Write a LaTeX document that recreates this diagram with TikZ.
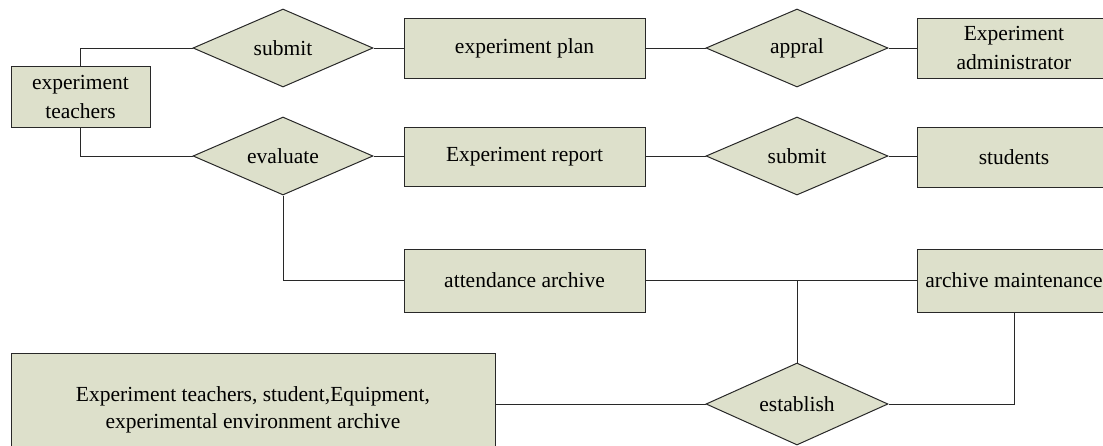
\documentclass[tikz,border=0pt]{standalone}
\usepackage{fontspec}
\setmainfont{Liberation Serif}
\usetikzlibrary{shapes.geometric}
\definecolor{boxfill}{RGB}{221,224,203}
\definecolor{edge}{RGB}{40,40,40}
\tikzset{
  entity/.style={draw=edge, fill=boxfill, line width=1pt, inner sep=0pt, align=center,
    font=\fontsize{21.5}{29}\selectfont},
  relation/.style={draw=edge, fill=boxfill, line width=1pt, shape=diamond, aspect=2.3,
    inner sep=0pt, font=\fontsize{21.5}{29}\selectfont},
  conn/.style={draw=edge, line width=1pt}
}
\begin{document}
\begin{tikzpicture}[x=1pt,y=-1pt]
\useasboundingbox (0,0) rectangle (1103,445);
% entities
\node[entity, minimum width=139pt, minimum height=61pt] (teach) at (80.5,96.5) {experiment\\teachers};
\node[entity, minimum width=241pt, minimum height=60pt] (plan) at (524.5,48) {experiment plan};
\node[entity, minimum width=194pt, minimum height=60pt] (admin) at (1014,48) {Experiment\\administrator};
\node[entity, minimum width=241pt, minimum height=59pt] (report) at (524.5,156.5) {Experiment report};
\node[entity, minimum width=194pt, minimum height=60pt] (students) at (1014,157) {students};
\node[entity, minimum width=241pt, minimum height=63pt] (attend) at (524.5,280.5) {attendance archive};
\node[entity, minimum width=194pt, minimum height=63pt] (maint) at (1014,280.5) {archive maintenance};
\node[entity, minimum width=484pt, minimum height=114pt, font=\fontsize{21.5}{27}\selectfont] (big) at (253,410) {Experiment teachers, student,Equipment,\\experimental environment archive};
% relations
\node[relation, minimum width=180pt, minimum height=78pt] (submitA) at (283,48) {submit};
\node[relation, minimum width=182pt, minimum height=78pt] (appral) at (797,48) {appral};
\node[relation, minimum width=180pt, minimum height=78pt] (evaluate) at (283,156) {evaluate};
\node[relation, minimum width=182pt, minimum height=78pt] (submitB) at (797,156) {submit};
\node[relation, minimum width=182pt, minimum height=82pt] (establish) at (797,404) {establish};
% connectors
\draw[conn] (teach.north) |- (submitA.west);
\draw[conn] (teach.south) |- (evaluate.west);
\draw[conn] (submitA.east) -- (plan.west);
\draw[conn] (plan.east) -- (appral.west);
\draw[conn] (appral.east) -- (admin.west);
\draw[conn] (evaluate.east) -- (report.west |- evaluate.east);
\draw[conn] (report.east |- submitB.west) -- (submitB.west);
\draw[conn] (submitB.east) -- (students.west |- submitB.east);
\draw[conn] (evaluate.south) |- (attend.west);
\draw[conn] (attend.east) -- (maint.west);
\coordinate (junc) at (establish.north |- attend.east);
\draw[conn] (junc) -- (establish.north);
\draw[conn] (maint.south) |- (establish.east);
\draw[conn] (big.east |- establish.west) -- (establish.west);
\end{tikzpicture}
\end{document}
